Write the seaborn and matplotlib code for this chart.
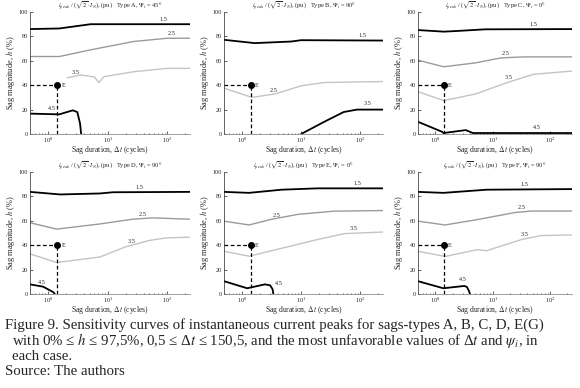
import matplotlib
matplotlib.use("Agg")
import matplotlib.pyplot as plt
import seaborn as sns
import pandas as pd

# ---- data (x = sag duration in cycles, h = sag magnitude %) ----
a15_x = [0.5, 1.55, 5.2, 240];                    a15_h = [86, 86.5, 90, 90]
a25_x = [0.5, 1.55, 5.2, 27, 100, 240];          a25_h = [63.5, 63.5, 69, 75.8, 78.5, 78.5]
a35_x = [2.1, 3.5, 6.0, 7.1, 8.7, 27, 100, 240];  a35_h = [46, 48.4, 46.8, 42.2, 47, 51, 53.8, 53.8]
a45_x = [0.5, 1.55, 2.6, 3.1, 3.45, 3.6];         a45_h = [16.7, 16.1, 19.4, 18, 8.6, 0]

b15_x = [0.5, 1.65, 6.8, 10, 240];                b15_h = [77.2, 74.5, 75.8, 76.9, 76.6]
b25_x = [0.5, 1.48, 3.6, 10, 24.5, 240];          b25_h = [37.6, 30, 32.8, 39.5, 42.2, 43]
b35_x = [10, 24.5, 52, 87, 240];                  b35_h = [0, 10, 18, 20, 20]

c15_x = [0.5, 1.4, 2.3, 7.4, 240];                c15_h = [85.2, 83.9, 84.4, 85.8, 86]
c25_x = [0.5, 1.4, 5, 14, 35, 240];               c25_h = [60.5, 55.1, 58.3, 62.4, 63.2, 63.2]
c35_x = [0.5, 1.4, 5, 18, 51, 240];               c35_h = [34.7, 27.4, 32.8, 42.2, 48.9, 51.6]
c45_x = [0.5, 1.3, 1.4, 3.4, 4.5, 240];           c45_h = [10, 1.9, 0.8, 3.2, 0.8, 0.8]

d15_x = [0.5, 1.6, 7.4, 12.3, 240];               d15_h = [83.7, 81.6, 82.4, 83.4, 83.7]
d25_x = [0.5, 1.4, 7.4, 26, 57, 240];             d25_h = [58.4, 53.2, 57.4, 61.3, 62.4, 61.3]
d35_x = [0.5, 1.4, 7.4, 20, 50, 95, 240];         d35_h = [32.9, 25.8, 30.3, 38.7, 43.9, 46, 46.6]
d45_x = [0.5, 0.83, 1.23, 1.3];                   d45_h = [7.9, 6, 1.5, 0]

e15_x = [0.5, 1.32, 4.7, 19, 240];                e15_h = [83.7, 82.9, 85.5, 86.6, 86.6]
e25_x = [0.5, 1.32, 3.2, 8.9, 36, 240];           e25_h = [59.7, 56.6, 61.3, 65.3, 67.9, 68.4]
e35_x = [0.5, 1.32, 5.4, 19, 54, 240];            e35_h = [35, 31, 38.2, 44.7, 49.5, 50.8]
e45_x = [0.5, 1.23, 2.45, 3.0, 3.3, 3.4];         e45_h = [10.5, 4.7, 7.9, 7.1, 3.9, 0]

f15_x = [0.5, 1.38, 7.9, 240];                    f15_h = [83.7, 82.9, 85.5, 86]
f25_x = [0.5, 1.48, 5.4, 24.5, 47, 240];          f25_h = [59.7, 56.6, 61, 66.8, 68, 68]
f35_x = [0.5, 1.48, 5.4, 7.8, 32, 69, 240];       f35_h = [35, 30.8, 36.3, 35.5, 44.7, 47.9, 48.4]
f45_x = [0.5, 1.38, 3.2, 3.55, 3.9, 4.0];         f45_h = [10.5, 4.7, 6.6, 5.8, 2, 0]

# point E
e_x = 1.4
e_h = 40

types = ['A', 'B', 'C', 'D', 'E', 'F']
psi = ['45', '90', '0', '90', '0', '90']

black = '#000000'
grey = '#9a9a9a'
light = '#c4c4c4'

# (x, h, colour, label, label_x, label_y)
panels = [
    [(a15_x, a15_h, black, '1.5', 87, 91.5), (a25_x, a25_h, grey, '2.5', 120, 80),
     (a35_x, a35_h, light, '3.5', 2.9, 48), (a45_x, a45_h, black, '4.5', 1.15, 19)],
    [(b15_x, b15_h, black, '1.5', 107, 78.5), (b25_x, b25_h, light, '2.5', 3.4, 34),
     (b35_x, b35_h, black, '3.5', 130, 23)],
    [(c15_x, c15_h, black, '1.5', 51, 87.5), (c25_x, c25_h, grey, '2.5', 17, 64),
     (c35_x, c35_h, light, '3.5', 19, 44), (c45_x, c45_h, black, '4.5', 59, 3)],
    [(d15_x, d15_h, black, '1.5', 34, 85.5), (d25_x, d25_h, grey, '2.5', 38, 63.5),
     (d35_x, d35_h, light, '3.5', 25, 41), (d45_x, d45_h, black, '4.5', 0.8, 7.5)],
    [(e15_x, e15_h, black, '1.5', 89, 88.5), (e25_x, e25_h, grey, '2.5', 3.9, 62.5),
     (e35_x, e35_h, light, '3.5', 78, 52), (e45_x, e45_h, black, '4.5', 4.2, 6.6)],
    [(f15_x, f15_h, black, '1.5', 36, 88), (f25_x, f25_h, grey, '2.5', 32, 69),
     (f35_x, f35_h, light, '3.5', 36, 46.5), (f45_x, f45_h, black, '4.5', 3.0, 10)],
]

sns.set_theme(style="ticks", rc={"axes.spines.right": False, "axes.spines.top": False})
plt.rcParams["font.family"] = ["Liberation Serif", "DejaVu Serif"]
plt.rcParams["mathtext.fontset"] = "stix"

fig = plt.figure(figsize=(5.8, 3.88), dpi=100)

W, H = 580, 388
cols = [(30, 190), (224, 383), (418, 572)]
rows = [(12, 134), (172, 294)]

for i, curves in enumerate(panels):
    r, c = divmod(i, 3)
    x0, x1 = cols[c]
    y0, y1 = rows[r]
    ax = fig.add_axes([x0 / W, 1 - y1 / H, (x1 - x0) / W, (y1 - y0) / H])

    for x, h, col, lab, lx, ly in curves:
        df = pd.DataFrame({'x': x, 'h': h})
        lw = 1.3 if col == black else 1.0
        sns.lineplot(data=df, x='x', y='h', ax=ax, color=col, lw=lw,
                     estimator=None, sort=False)
        ax.text(lx, ly, lab, fontsize=4.5, ha='center', va='bottom')

    # point E
    ax.plot([0.5, e_x], [e_h, e_h], color='black', ls='--', lw=0.9, dashes=(3, 2))
    ax.plot([e_x, e_x], [0, e_h], color='black', ls='--', lw=0.9, dashes=(3, 2))
    ax.plot([e_x], [e_h], 'o', color='black', ms=4)
    ax.text(e_x * 1.2, e_h, 'E', fontsize=4.5, va='center')

    ax.set_xscale('log')
    ax.set_xlim(0.5, 240)
    ax.set_ylim(0, 100)
    ax.set_yticks([0, 20, 40, 60, 80, 100])
    ax.tick_params(axis='both', which='major', labelsize=4.5, direction='in', length=2,
                   width=0.5, pad=1.5)
    ax.tick_params(axis='x', which='minor', direction='in', length=1, width=0.5)
    for s in ['left', 'bottom']:
        ax.spines[s].set_linewidth(0.5)
    ax.spines['bottom'].set_color('#777777')

    ax.set_xlabel(r'Sag duration, $\Delta t$ (cycles)', fontsize=5.5, labelpad=-1)
    ax.set_ylabel(r'Sag magnitude, $h$ (%)', fontsize=6, labelpad=1)
    ax.set_title(r'$i_{peak}$ / ($\sqrt{2}\cdot I_N$), (pu)   Type ' + types[i]
                 + r', $\Psi_i$ = ' + psi[i] + '°', fontsize=4.6, pad=1)

cap = 10.7
fig.text(5 / W, 1 - 325 / H, 'Figure 9. Sensitivity curves of instantaneous current peaks for sags-types A, B, C, D, E(G)',
         fontsize=cap, va='center')
fig.text(12 / W, 1 - 340.5 / H, r'with 0% ≤ $h$ ≤ 97,5%, 0,5 ≤ Δ$t$ ≤ 150,5, and the most unfavorable values of Δ$t$ and $\psi_i$, in',
         fontsize=cap, va='center')
fig.text(12 / W, 1 - 356 / H, 'each case.', fontsize=cap, va='center')
fig.text(5 / W, 1 - 371.5 / H, 'Source: The authors', fontsize=cap, va='center')

fig.savefig('out.png', dpi=100)
